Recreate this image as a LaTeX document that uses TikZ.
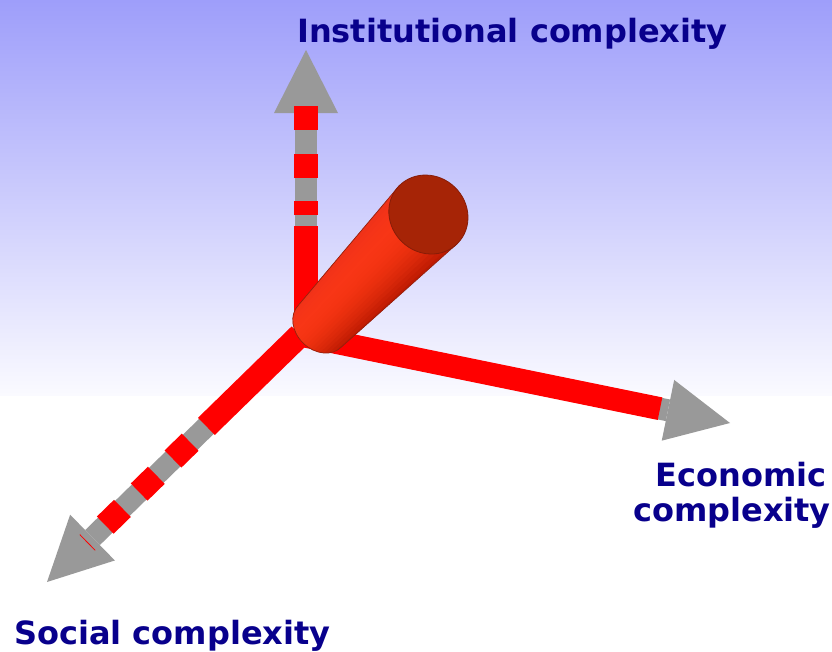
\documentclass[tikz,border=0pt]{standalone}
\usepackage{fontspec}
\setmainfont{DejaVu Sans}
\usetikzlibrary{calc}

\definecolor{axisred}{RGB}{255,0,0}
\definecolor{axisgray}{RGB}{153,153,153}
\definecolor{labelblue}{RGB}{8,0,140}
\definecolor{skytop}{RGB}{158,158,250}
\definecolor{skybottom}{RGB}{250,250,255}
\definecolor{capface}{RGB}{166,36,6}
\definecolor{capedge}{RGB}{135,28,8}
\definecolor{tuberim}{RGB}{150,32,12}

\begin{document}
\begin{tikzpicture}[x=1pt,y=-1pt,
  grayshaft/.style={draw=axisgray, line width=#1, line cap=butt},
  redshaft/.style={draw=axisred, line width=#1, line cap=butt},
  axislabel/.style={font=\fontsize{32}{38}\selectfont\bfseries, text=labelblue, inner sep=0pt},
]
\useasboundingbox (0,0) rectangle (832,651);

% sky backdrop fading to white
\shade[top color=skytop, bottom color=skybottom] (0,0) rectangle (832,395);

% ---------- vertical axis ----------
\coordinate (vO) at (306,336);
\coordinate (vT) at (306,50);
\coordinate (vB) at ($(vO)!223pt!(vT)$);
\draw[grayshaft=22pt, xshift=-1.5pt] (vO) -- (vB);
\fill[axisgray] ($(vB)!32pt!90:(vT)$) -- (vT) -- ($(vB)!32pt!-90:(vT)$) -- cycle;
\draw[redshaft=24pt, xshift=1pt] (vO) -- ($(vO)!110pt!(vT)$);
\foreach \a/\b in {121/135, 158/182, 206/230}
  \draw[redshaft=24pt] ($(vO)!\a pt!(vT)$) -- ($(vO)!\b pt!(vT)$);

% ---------- economic axis ----------
\coordinate (eO) at (300,335);
\coordinate (eT) at (730,423);
\coordinate (eB) at ($(eO)!375.6pt!(eT)$);
\draw[grayshaft=22pt, yshift=1.5pt] (eO) -- (eB);
\fill[axisgray] ($(eB)!31pt!90:(eT)$) -- (eT) -- ($(eB)!31pt!-90:(eT)$) -- cycle;
\draw[redshaft=23pt] (eO) -- ($(eO)!367.5pt!(eT)$);

% ---------- social axis ----------
\coordinate (sO) at (300,335);
\coordinate (sT) at (47,582);
\coordinate (sB) at ($(sO)!290pt!(sT)$);
\draw[grayshaft=21pt] (sO) -- (sB);
\fill[axisgray] ($(sB)!32pt!90:(sT)$) -- (sT) -- ($(sB)!32pt!-90:(sT)$) -- cycle;
\draw[redshaft=24pt] (sO) -- ($(sO)!130.8pt!(sT)$);
\foreach \a/\b in {153.5/177.5, 200.8/224.8, 248.2/272.2}
  \draw[redshaft=24pt] ($(sO)!\a pt!(sT)$) -- ($(sO)!\b pt!(sT)$);
\coordinate (sM) at ($(sO)!297pt!(sT)$);
\draw[axisred, line width=0.8pt] ($(sM)!11pt!90:(sT)$) -- ($(sM)!11pt!-90:(sT)$);

% ---------- tapered tube ----------
\begin{scope}[shift={(320,326)}, rotate=45.8]
  \begin{scope}
    \clip (0,-30) -- (155.5,-41) -- (155.5,41) -- (0,30)
          arc[start angle=90, end angle=270, x radius=24, y radius=30] -- cycle;
    \foreach \s in {-1.2,-1.1,...,1.25} {
      \pgfmathtruncatemacro{\rr}{max(0,min(255,248-30*(\s+0.4)^2))}
      \pgfmathtruncatemacro{\gg}{max(0,min(255,54-14*(\s+0.4)^2))}
      \pgfmathtruncatemacro{\bb}{max(0,min(255,22-8*(\s+0.4)-4*(\s+0.4)^2))}
      \definecolor{strip}{RGB}{\rr,\gg,\bb}
      \draw[strip, line width=5.5pt] (-30,30*\s) -- (160,41*\s);
    }
  \end{scope}
  \draw[tuberim, line width=0.7pt] (155.5,-41) -- (0,-30)
        arc[start angle=270, end angle=90, x radius=24, y radius=30] -- (155.5,41);
  \fill[capface] (155.5,0) ellipse[x radius=38, y radius=41];
  \draw[capedge, line width=0.8pt] (155.5,0) ellipse[x radius=38, y radius=41];
\end{scope}

% ---------- labels ----------
\node[axislabel, anchor=base west] (inst) at (297,42) {Institutional complexity};
\node[axislabel, anchor=base east] (econA) at (827,486) {Economic};
\node[axislabel, anchor=base east] (econB) at (831,521) {complexity};
\node[axislabel, anchor=base west] (soc) at (14,644) {Social complexity};
\end{tikzpicture}
\end{document}
